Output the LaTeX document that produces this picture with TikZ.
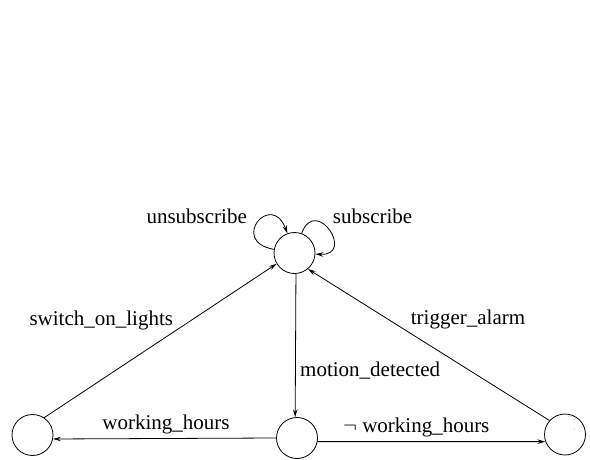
\documentclass[tikz,border=0pt]{standalone}
\usepackage{fontspec}
\setmainfont{Liberation Serif}
\usetikzlibrary{arrows.meta}
\begin{document}
\begin{tikzpicture}[x=1pt,y=1pt,
  state/.style={draw,circle,minimum size=41pt,inner sep=0pt,line width=0.8pt},
  edge/.style={line width=0.8pt,-{Stealth[length=8pt,width=4.5pt,inset=3pt]}},
  lbl/.style={font=\fontsize{21}{24}\selectfont,anchor=base,inner sep=0pt}]
\useasboundingbox (0,0) rectangle (590,459);
\node[state] (T)  at (294.5,206) {};
\node[state] (BL) at (32.5,24) {};
\node[state] (BM) at (297,21) {};
\node[state] (BR) at (565,24.5) {};
% loops
\draw[edge] (T.170) .. controls +(170:46) and +(110:46) .. (T.110);
\draw[edge] (T.70) .. controls +(70:41) and +(-3:41) .. (T.-3);
% edges
\draw[edge] (BL.56) -- (T.211);
\draw[edge] (BR.138) -- (T.-50);
\draw[edge] (T.-86) -- (BM.95);
\draw[edge] (BM.180) -- (BL.-11);
\draw[edge] (BM.-10) -- (BR.200);
% labels
\node[lbl] (lu) at (196.7,236) {unsubscribe};
\node[lbl] (ls) at (372.6,236) {subscribe};
\node[lbl] (lsw) at (101.3,134) {switch\_on\_lights};
\node[lbl] (lt) at (468,135) {trigger\_alarm};
\node[lbl,anchor=base west] (lm) at (300,83) {motion\_detected};
\node[lbl] (lw) at (166,29.7) {working\_hours};
\node[lbl] (lnw) at (416.3,26.3) {$\neg$ working\_hours};
\fill[gray] (BR.center) ++(9,5.5) circle (0.5pt);
\end{tikzpicture}
\end{document}
